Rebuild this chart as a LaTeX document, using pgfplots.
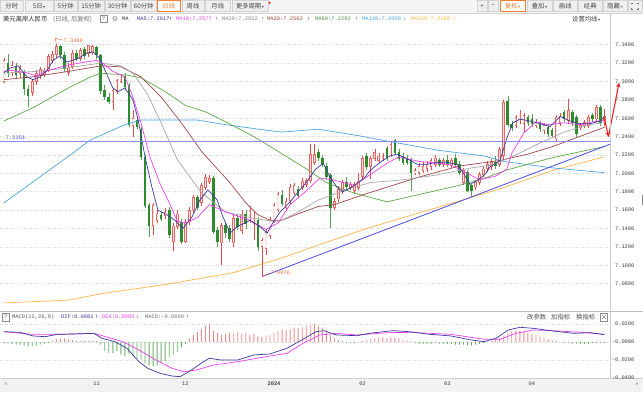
\documentclass[border=0pt]{standalone}
\usepackage{fontspec}
\setmainfont{Liberation Sans}
\setmonofont{Liberation Mono}
\newfontfamily\cjk{Noto Sans CJK SC}
\newfontfamily\dvs{DejaVu Sans}
\newfontfamily\dvm{DejaVu Sans Mono}
\usepackage{pgfplots}
\usepackage{pgfplotstable}
\pgfplotsset{compat=1.18}
\usetikzlibrary{arrows.meta}

\newcommand{\sm}{\fontsize{5.4}{6}\selectfont}
\newcommand{\cj}{\cjk\fontsize{6.3}{7}\selectfont}

\definecolor{upred}{HTML}{E84A4A}
\definecolor{upfill}{HTML}{FCE6E6}
\definecolor{dngreen}{HTML}{2E8B2E}
\definecolor{ma5}{HTML}{3A3A9A}
\definecolor{ma10}{HTML}{F040F0}
\definecolor{ma20}{HTML}{A8A8A8}
\definecolor{ma30}{HTML}{A04848}
\definecolor{ma60}{HTML}{5DA849}
\definecolor{ma120}{HTML}{4DA6E0}
\definecolor{ma250}{HTML}{FFB547}
\definecolor{trend}{HTML}{4A4AE8}
\definecolor{hline}{HTML}{8A8AF5}
\definecolor{annot}{HTML}{F07040}
\definecolor{arrowred}{HTML}{EE2222}
\definecolor{macdred}{HTML}{F08A8A}
\definecolor{macdgreen}{HTML}{6AB06A}
\definecolor{tbbg}{HTML}{F5F5F5}
\definecolor{btnbg}{HTML}{EFEFEF}
\definecolor{tbline}{HTML}{D2D2D2}
\definecolor{selorange}{HTML}{F08030}

\pgfplotstableread{
i o h l c
0 7.300 7.326 7.298 7.323
2 7.310 7.322 7.306 7.318
4 7.309 7.318 7.304 7.314
7 7.288 7.303 7.284 7.300
8 7.300 7.312 7.296 7.309
9 7.306 7.316 7.303 7.313
10 7.308 7.315 7.305 7.311
11 7.312 7.330 7.310 7.327
12 7.323 7.333 7.320 7.330
13 7.329 7.3406 7.326 7.338
16 7.310 7.320 7.306 7.316
17 7.316 7.334 7.314 7.331
19 7.325 7.336 7.322 7.334
21 7.330 7.340 7.327 7.339
22 7.332 7.340 7.329 7.338
27 7.278 7.293 7.269 7.290
28 7.289 7.303 7.286 7.301
29 7.300 7.308 7.298 7.304
32 7.252 7.269 7.240 7.260
37 7.143 7.168 7.133 7.165
38 7.149 7.160 7.146 7.156
40 7.154 7.162 7.150 7.158
42 7.126 7.146 7.115 7.143
43 7.142 7.160 7.139 7.156
45 7.126 7.150 7.124 7.147
46 7.147 7.163 7.144 7.160
47 7.160 7.177 7.157 7.174
49 7.168 7.190 7.165 7.187
50 7.185 7.199 7.182 7.196
51 7.191 7.198 7.188 7.195
54 7.124 7.146 7.100 7.143
57 7.124 7.155 7.120 7.151
59 7.138 7.160 7.134 7.156
61 7.149 7.164 7.146 7.160
62 7.145 7.159 7.128 7.156
64 7.120 7.130 7.0876 7.127
65 7.118 7.139 7.111 7.136
66 7.132 7.152 7.129 7.149
67 7.149 7.168 7.146 7.165
68 7.161 7.180 7.158 7.177
70 7.163 7.173 7.160 7.170
71 7.170 7.188 7.167 7.185
72 7.179 7.190 7.176 7.187
74 7.185 7.195 7.182 7.192
75 7.188 7.195 7.185 7.192
76 7.192 7.232 7.189 7.221
77 7.212 7.232 7.209 7.221
82 7.163 7.173 7.160 7.170
83 7.172 7.186 7.169 7.183
84 7.181 7.193 7.178 7.190
86 7.185 7.191 7.182 7.188
87 7.181 7.191 7.178 7.188
88 7.185 7.200 7.182 7.192
89 7.196 7.219 7.193 7.216
91 7.207 7.219 7.194 7.216
92 7.216 7.226 7.213 7.223
93 7.214 7.222 7.211 7.219
94 7.216 7.222 7.213 7.219
96 7.221 7.234 7.218 7.232
102 7.201 7.206 7.198 7.203
103 7.201 7.211 7.198 7.208
104 7.203 7.212 7.200 7.208
105 7.205 7.213 7.202 7.210
106 7.207 7.217 7.204 7.214
107 7.210 7.220 7.207 7.217
109 7.210 7.217 7.207 7.214
111 7.209 7.217 7.206 7.214
114 7.190 7.206 7.187 7.203
117 7.185 7.193 7.182 7.190
118 7.190 7.202 7.187 7.199
119 7.199 7.208 7.196 7.205
120 7.205 7.213 7.202 7.210
121 7.207 7.216 7.204 7.212
123 7.210 7.229 7.207 7.226
124 7.219 7.280 7.215 7.277
127 7.252 7.264 7.249 7.261
128 7.257 7.269 7.254 7.266
129 7.254 7.266 7.245 7.263
132 7.2519 7.259 7.249 7.2555
134 7.2464 7.255 7.243 7.2519
137 7.2374 7.264 7.235 7.2609
138 7.2555 7.266 7.252 7.2628
140 7.2573 7.281 7.254 7.2682
143 7.2501 7.255 7.247 7.2519
144 7.2519 7.258 7.249 7.2555
145 7.2519 7.264 7.249 7.2609
147 7.2591 7.274 7.256 7.2718
149 7.2573 7.270 7.252 7.2617
}\upT

\pgfplotstableread{
i o h l c
1 7.320 7.330 7.305 7.310
3 7.316 7.320 7.303 7.307
5 7.310 7.313 7.285 7.292
6 7.292 7.296 7.272 7.285
14 7.338 7.340 7.325 7.329
15 7.329 7.332 7.310 7.314
18 7.331 7.334 7.322 7.325
20 7.335 7.338 7.324 7.328
23 7.337 7.339 7.325 7.329
24 7.328 7.330 7.286 7.290
25 7.291 7.296 7.280 7.284
26 7.283 7.288 7.275 7.278
30 7.306 7.309 7.291 7.294
31 7.296 7.298 7.250 7.253
33 7.258 7.262 7.248 7.251
34 7.248 7.250 7.215 7.218
35 7.218 7.220 7.162 7.165
36 7.165 7.168 7.131 7.143
39 7.155 7.158 7.148 7.151
41 7.160 7.163 7.130 7.133
44 7.147 7.150 7.123 7.126
48 7.174 7.177 7.160 7.163
52 7.195 7.197 7.134 7.137
53 7.138 7.142 7.120 7.126
55 7.143 7.147 7.130 7.135
56 7.140 7.144 7.125 7.129
58 7.151 7.156 7.138 7.142
60 7.156 7.160 7.140 7.145
63 7.149 7.152 7.116 7.120
69 7.176 7.182 7.164 7.167
73 7.183 7.186 7.173 7.176
78 7.223 7.226 7.214 7.217
79 7.217 7.220 7.207 7.210
80 7.208 7.211 7.193 7.196
81 7.198 7.200 7.141 7.163
85 7.190 7.196 7.182 7.185
90 7.219 7.222 7.204 7.207
95 7.227 7.230 7.214 7.217
97 7.236 7.237 7.220 7.223
98 7.223 7.226 7.213 7.216
99 7.219 7.222 7.209 7.212
100 7.217 7.220 7.209 7.212
101 7.214 7.217 7.181 7.201
108 7.214 7.217 7.207 7.210
110 7.214 7.220 7.207 7.210
112 7.216 7.221 7.206 7.209
113 7.210 7.213 7.198 7.201
115 7.201 7.204 7.180 7.181
116 7.187 7.190 7.174 7.181
122 7.212 7.219 7.205 7.208
125 7.278 7.284 7.250 7.253
126 7.254 7.257 7.246 7.250
130 7.261 7.264 7.252 7.2555
131 7.259 7.2646 7.250 7.2537
133 7.2537 7.257 7.245 7.2482
135 7.2501 7.253 7.240 7.2428
136 7.2464 7.249 7.238 7.241
139 7.2664 7.269 7.256 7.2591
141 7.2664 7.269 7.252 7.2555
142 7.2609 7.264 7.240 7.2428
146 7.2628 7.266 7.256 7.2591
148 7.2718 7.274 7.252 7.2555
}\dnT

\pgfplotstableread{
i v
0 -0.002
1 -0.002
2 -0.002
3 -0.003
4 -0.003
5 -0.004
6 -0.005
7 -0.005
8 -0.004
9 -0.003
10 -0.002
11 -0.001
12 0.001
13 0.003
14 0.004
15 0.004
16 0.003
17 0.002
18 0.001
19 0.001
20 0.001
21 0.001
22 0.001
23 0.001
24 -0.003
25 -0.010
26 -0.012
27 -0.012
28 -0.010
29 -0.014
30 -0.016
31 -0.013
32 -0.016
33 -0.018
34 -0.020
35 -0.024
36 -0.026
37 -0.027
38 -0.026
39 -0.023
40 -0.021
41 -0.017
42 -0.014
43 -0.011
44 -0.006
45 -0.002
46 0.004
47 0.008
48 0.011
49 0.014
50 0.018
51 0.020
52 0.012
53 0.010
54 0.008
55 0.009
56 0.010
57 0.009
58 0.011
59 0.009
60 0.010
61 0.008
62 0.009
63 0.007
64 0.006
65 0.007
66 0.008
67 0.010
68 0.012
69 0.014
70 0.013
71 0.014
72 0.016
73 0.015
74 0.017
75 0.018
76 0.019
77 0.020
78 0.018
79 0.016
80 0.013
81 0.008
82 0.004
83 0.002
84 0.001
85 -0.001
86 -0.001
87 -0.001
88 0.000
89 0.001
90 0.002
91 0.003
92 0.004
93 0.005
94 0.005
95 0.004
96 0.005
97 0.005
98 0.004
99 0.003
100 0.002
101 0.001
102 -0.001
103 -0.002
104 -0.002
105 -0.002
106 -0.002
107 -0.001
108 -0.002
109 -0.002
110 -0.002
111 -0.002
112 -0.003
113 -0.003
114 -0.003
115 -0.004
116 -0.004
117 -0.003
118 -0.002
119 -0.001
120 0.000
121 0.001
122 0.002
123 0.004
124 0.007
125 0.010
126 0.012
127 0.013
128 0.012
129 0.011
130 0.010
131 0.009
132 0.008
133 0.007
134 0.005
135 0.003
136 0.002
137 0.001
138 0.000
139 -0.001
140 -0.001
141 -0.002
142 -0.002
143 -0.002
144 -0.002
145 -0.002
146 -0.001
147 -0.001
148 -0.001
149 -0.0009
}\histT

\newcommand{\btn}[3]{\draw[tbline,fill=btnbg,line width=0.5pt] (#1,380.5) rectangle (#2,391.3);
  \node[inner sep=0,text=black!72,font=\cj] at ({(#1+#2)/2},385.8) {#3};}
\newcommand{\btnsel}[3]{\draw[selorange,fill=white,line width=0.6pt] (#1,380.5) rectangle (#2,391.3);
  \node[inner sep=0,text=selorange,font=\cj] at ({(#1+#2)/2},385.8) {#3};}
\newcommand{\tri}{{\dvs\fontsize{4}{4}\selectfont\,▾}}

\begin{document}
\begin{tikzpicture}[x=1pt,y=1pt]
\fill[white] (0,0) rectangle (643,392);
\path[use as bounding box] (0,0) rectangle (643,392);
% bottom strip (behind the date labels)
\fill[black!5] (0,0) rectangle (643,14);
\draw[black!20,line width=0.5pt] (0,14) -- (643,14);

% ---------- toolbar ----------
\fill[tbbg] (0,379) rectangle (643,392);
\draw[tbline] (0,379.2) -- (643,379.2);
\btn{0.5}{23}{分时}
\btn{25}{53}{5日\tri}
\btn{54.5}{77}{5分钟}
\btn{78.5}{104}{15分钟}
\btn{105.5}{130}{30分钟}
\btn{131.5}{156}{60分钟}
\btnsel{157.5}{180}{日线}
\btn{182}{204}{周线}
\btn{205.5}{230}{月线}
\btn{232}{268}{更多周期\tri}
\fill[red] (269.5,389.3) circle (1.1);
\btn{477}{487}{+}
\btn{488}{498}{−}
\btnsel{500}{525}{复权\tri}
\btn{527}{552}{叠加\tri}
\btn{553.5}{577}{画线}
\btn{578.5}{602}{经典}
\btn{603.5}{627}{隐藏{\dvs\fontsize{5}{5}\selectfont»}}
\btn{628.5}{642.5}{}
\draw[black!55,line width=0.5pt] (631.5,387.5)--(631.5,389)--(633,389) (637,389)--(638.5,389)--(638.5,387.5)
  (638.5,384)--(638.5,382.5)--(637,382.5) (633,382.5)--(631.5,382.5)--(631.5,384);

% ---------- header line ----------
\node[anchor=west,inner sep=0,font=\cj,text=black!85] at (3,373) {美元离岸人民币};
\node[anchor=west,inner sep=0,font=\cj,text=black!55] at (53,373) {(日线, 后复权)};
\draw[black!45,line width=0.4pt] (100,369.3) rectangle (107.5,376.7);
\node[inner sep=0,font=\ttfamily\sm,text=black!60] at (103.75,373) {?};
\node[inner sep=0,font=\dvs\fontsize{7}{7}\selectfont,text=black!50] at (115,373) {⚙};
\node[anchor=west,inner sep=0,font=\ttfamily\sm,text=black!80] at (122,373) {MA};
\node[anchor=west,inner sep=0,font=\ttfamily\sm,text=ma5] at (137,373) {MA5:7.2617};
\node[anchor=west,inner sep=0,font=\dvm\sm,text=ma5] at (169,373) {↑};
\node[anchor=west,inner sep=0,font=\ttfamily\sm,text=ma10] at (176,373) {MA10:7.2577};
\node[anchor=west,inner sep=0,font=\dvm\sm,text=ma10] at (215,373) {↑};
\node[anchor=west,inner sep=0,font=\ttfamily\sm,text=black!50] at (222,373) {MA20:7.2552};
\node[anchor=west,inner sep=0,font=\dvm\sm,text=black!50] at (261,373) {↑};
\node[anchor=west,inner sep=0,font=\ttfamily\sm,text=ma30] at (267,373) {MA30:7.2502};
\node[anchor=west,inner sep=0,font=\dvm\sm,text=ma30] at (307,373) {↑};
\node[anchor=west,inner sep=0,font=\ttfamily\sm,text=ma60!85!black] at (315,373) {MA60:7.2292};
\node[anchor=west,inner sep=0,font=\dvm\sm,text=ma60!85!black] at (355,373) {↑};
\node[anchor=west,inner sep=0,font=\ttfamily\sm,text=ma120] at (362,373) {MA120:7.2008};
\node[anchor=west,inner sep=0,font=\dvm\sm,text=ma120] at (403,373) {↓};
\node[anchor=west,inner sep=0,font=\ttfamily\sm,text=ma250] at (411,373) {MA250:7.2180};
\node[anchor=west,inner sep=0,font=\dvm\sm,text=ma250] at (453,373) {↑};
\node[anchor=west,inner sep=0,font=\cj,text=black!75] at (572,373) {设置均线\tri};

% ---------- main price panel ----------
\begin{axis}[
  at={(0pt,82pt)}, anchor=south west, scale only axis,
  width=610pt, height=283pt,
  xmin=-0.99, xmax=150.37, ymin=7.0513, ymax=7.3593,
  axis line style={draw=none}, major tick length=0pt,
  xtick=\empty, scaled y ticks=false,
  ytick={7.08,7.10,7.12,7.14,7.16,7.18,7.20,7.22,7.24,7.26,7.28,7.30,7.32,7.34},
  yticklabel pos=right,
  /pgf/number format/assume math mode=true,
  yticklabel={\pgfmathprintnumber[fixed,fixed zerofill,precision=4]{\tick}},
  yticklabel style={font=\ttfamily\sm, text=black!75, anchor=east, xshift=28pt},
  ymajorgrids, grid style={dotted, black!16, line width=0.5pt},
]
% wicks
\addplot[only marks, mark=*, mark size=0pt, mark options={draw=none,fill=none},
  error bars/.cd, y dir=plus, y explicit, error mark=none,
  error bar style={line width=0.5pt, color=upred}]
  table[x=i, y=l, y error expr=\thisrow{h}-\thisrow{l}] {\upT};
\addplot[only marks, mark=*, mark size=0pt, mark options={draw=none,fill=none},
  error bars/.cd, y dir=plus, y explicit, error mark=none,
  error bar style={line width=0.5pt, color=dngreen!80}]
  table[x=i, y=l, y error expr=\thisrow{h}-\thisrow{l}] {\dnT};
% bodies
\addplot[only marks, mark=*, mark size=0pt, mark options={draw=none,fill=none},
  error bars/.cd, y dir=both, y explicit, error mark=none,
  error bar style={line width=2.6pt, color=upred!85}]
  table[x=i, y expr=(\thisrow{o}+\thisrow{c})/2, y error expr=(\thisrow{c}-\thisrow{o})/2+0.0003] {\upT};
\addplot[only marks, mark=*, mark size=0pt, mark options={draw=none,fill=none},
  error bars/.cd, y dir=both, y explicit, error mark=none,
  error bar style={line width=1.2pt, color=upfill}]
  table[x=i, y expr=(\thisrow{o}+\thisrow{c})/2, y error expr={max((\thisrow{c}-\thisrow{o})/2-0.0006,0)}] {\upT};
\addplot[only marks, mark=*, mark size=0pt, mark options={draw=none,fill=none},
  error bars/.cd, y dir=both, y explicit, error mark=none,
  error bar style={line width=2.6pt, color=dngreen}]
  table[x=i, y expr=(\thisrow{o}+\thisrow{c})/2, y error expr=(\thisrow{o}-\thisrow{c})/2+0.0003] {\dnT};

% moving averages
\addplot[ma250, line width=0.7pt] coordinates {(0,7.059)(16,7.062)(24,7.069)(40,7.079)(57,7.092)(69,7.108)(78,7.122)(90,7.140)(103,7.157)(113,7.170)(123,7.183)(136,7.203)(149,7.218)};
\addplot[ma120, line width=0.7pt] coordinates {(0,7.168)(11.4,7.204)(18,7.225)(21.3,7.236)(30,7.253)(34,7.258)(48,7.258)(55,7.253)(65,7.247)(69,7.245)(78,7.248)(88,7.241)(96.5,7.234)(108,7.225)(119,7.219)(124,7.213)(136,7.206)(149,7.2008)};
\addplot[ma60, line width=0.7pt] coordinates {(0,7.257)(7,7.271)(16,7.293)(21.5,7.305)(24,7.309)(30.5,7.307)(34,7.304)(40,7.289)(45,7.274)(50,7.267)(55,7.256)(62,7.240)(68,7.224)(75,7.205)(80,7.190)(86.6,7.179)(95,7.169)(103,7.177)(113,7.187)(120,7.196)(125,7.204)(136,7.217)(149,7.2292)};
\addplot[ma30, line width=0.7pt] coordinates {(0,7.302)(7,7.305)(16,7.311)(24,7.317)(29,7.316)(34,7.305)(39,7.283)(44,7.255)(49,7.224)(56,7.190)(60,7.168)(63,7.155)(66,7.149)(69,7.149)(73,7.156)(78,7.164)(82,7.166)(90,7.178)(103,7.196)(113,7.208)(123,7.214)(130,7.221)(136,7.229)(149,7.2502)};
\addplot[ma20, line width=0.7pt] coordinates {(0,7.309)(8,7.311)(16,7.315)(24,7.320)(29,7.317)(32,7.309)(35.5,7.287)(39,7.255)(43,7.215)(49,7.179)(55,7.158)(62,7.151)(68,7.147)(73,7.158)(78,7.171)(86,7.184)(91,7.190)(99,7.193)(107,7.198)(116,7.206)(121,7.209)(126,7.218)(133,7.233)(139,7.245)(145,7.253)(149,7.2552)};
\addplot[ma10, line width=0.7pt] coordinates {(0,7.311)(2,7.312)(6,7.309)(8,7.306)(11,7.312)(16,7.318)(20,7.321)(23,7.323)(24.5,7.320)(27,7.311)(30,7.305)(32,7.283)(34,7.255)(36.2,7.218)(38.7,7.189)(41,7.168)(43,7.148)(45,7.146)(48,7.152)(51,7.166)(55,7.158)(61,7.149)(65,7.139)(68,7.146)(71,7.166)(75,7.181)(78.4,7.195)(81.6,7.193)(85,7.189)(87,7.187)(90,7.196)(95,7.211)(98,7.218)(103,7.213)(108,7.211)(111,7.209)(115,7.200)(118,7.193)(122,7.197)(124.8,7.205)(126,7.222)(129,7.244)(132,7.256)(135,7.253)(139,7.255)(143,7.253)(146,7.256)(149,7.2577)};
\addplot[ma5, line width=0.7pt] coordinates {(0,7.3095)(1.5,7.3146)(3.5,7.317)(5.7,7.305)(7.2,7.302)(8.9,7.305)(10.7,7.312)(12.2,7.323)(13.9,7.328)(15.6,7.321)(18.4,7.325)(20.6,7.331)(22.1,7.332)(23.8,7.325)(25.6,7.307)(27,7.293)(28.3,7.289)(30,7.293)(32,7.280)(33.3,7.258)(35,7.218)(36.7,7.185)(38.2,7.160)(40.4,7.155)(42.4,7.149)(44.4,7.140)(46.7,7.153)(48.6,7.171)(50.6,7.182)(52.9,7.171)(54.3,7.153)(56.1,7.135)(57.8,7.142)(59.8,7.146)(61,7.149)(63.5,7.142)(65.3,7.135)(66.7,7.146)(68.5,7.158)(71,7.169)(73,7.180)(75.2,7.191)(77.2,7.204)(79.2,7.211)(80.9,7.196)(82.6,7.185)(84.1,7.180)(85.9,7.184)(87.6,7.189)(89.6,7.196)(90.8,7.203)(93.3,7.212)(95.8,7.219)(97.5,7.221)(100,7.216)(102.5,7.210)(105,7.210)(107.4,7.212)(109.9,7.212)(112.4,7.210)(113.9,7.201)(115.6,7.188)(117.4,7.192)(119.4,7.199)(120.6,7.207)(123.1,7.214)(124.8,7.239)(126.3,7.255)(128,7.259)(130.5,7.257)(133,7.254)(135.5,7.251)(138,7.262)(140.4,7.257)(142.9,7.254)(145.4,7.254)(147.9,7.257)(149,7.2617)};

% drawn lines
\addplot[hline, line width=0.9pt] coordinates {(-0.99,7.2351)(150.37,7.2351)};
\addplot[trend, line width=0.8pt] coordinates {(64,7.0876)(150.37,7.2317)};

% annotations
\draw[annot, line width=0.5pt] (axis cs:13,7.3406) -- (axis cs:12.7,7.3470) -- (axis cs:14.5,7.3452);
\node[anchor=west, inner sep=0.5pt, font=\ttfamily\sm, text=annot] at (axis cs:14.6,7.3447) {7.3406};
\draw[annot, line width=0.5pt] (axis cs:64,7.0876) -- (axis cs:65.8,7.0912);
\node[anchor=west, inner sep=0.5pt, font=\ttfamily\sm, text=annot] at (axis cs:66,7.0918) {7.0876};
\node[anchor=south west, inner sep=0.5pt, font=\ttfamily\sm, text=trend] at (axis cs:0.3,7.2360) {7.2351};
\coordinate (A1) at (axis cs:148.9,7.2610);
\coordinate (A2) at (axis cs:150.0,7.2400);
\coordinate (A3) at (axis cs:152.6,7.2986);
\end{axis}
\draw[arrowred, line width=1.1pt, -{Stealth[length=4.5pt,width=4.5pt]}] (A1) -- (A2);
\draw[arrowred, line width=1.1pt, -{Stealth[length=4.5pt,width=4.5pt]}] (A2) -- (A3);

% ---------- MACD panel ----------
\begin{axis}[
  at={(0pt,14pt)}, anchor=south west, scale only axis,
  width=610pt, height=66pt,
  xmin=-0.99, xmax=150.37, ymin=-0.04, ymax=0.0333,
  axis line style={draw=none}, major tick length=0pt,
  scaled y ticks=false, scaled x ticks=false,
  ytick={-0.04,-0.02,0,0.02},
  yticklabels={-0.0400,-0.0200,-0.0000,0.0200},
  yticklabel pos=right,
  yticklabel style={font=\ttfamily\sm, text=black!75, anchor=east, xshift=28pt},
  ymajorgrids, grid style={dotted, black!16, line width=0.5pt},
  xtick={23,45,67,89,110,131},
  xticklabels={11,12,{\bfseries 2024},02,03,04},
  xticklabel style={font=\ttfamily\sm, text=black!75, anchor=north, yshift=-0.5pt},
]
\addplot[ybar, bar width=0.9pt, bar shift=0pt, fill=macdred, draw=none, restrict y to domain=0:1] table[x=i,y=v] {\histT};
\addplot[ybar, bar width=0.9pt, bar shift=0pt, fill=macdgreen, draw=none, restrict y to domain=-1:0] table[x=i,y=v] {\histT};
\addplot[ma10, line width=0.7pt] coordinates {(0,0.0114)(7.2,0.0085)(14.1,0.0085)(22.3,0.0096)(26.6,0.0041)(29.5,0.0004)(33.5,-0.0089)(37.7,-0.0200)(41.7,-0.0293)(44.7,-0.0330)(47.9,-0.0310)(51.9,-0.0256)(58,-0.0219)(65,-0.0163)(70.2,-0.0126)(74.2,-0.0015)(78.4,0.0078)(82.4,0.0096)(87.6,0.0078)(95.5,0.0104)(100.7,0.0107)(110.9,0.0085)(119.1,0.0030)(123.1,0.0030)(127,0.0096)(131.3,0.0133)(136.2,0.0126)(143.4,0.0107)(149,0.0085)};
\addplot[ma5, line width=0.7pt] coordinates {(0,0.0114)(4,0.0107)(7.2,0.0067)(10.2,0.0059)(13.2,0.0085)(17.4,0.0089)(22.3,0.0096)(24.3,0.0041)(27.5,0.0004)(30.5,-0.0070)(33.5,-0.0219)(35.7,-0.0293)(38.7,-0.0348)(41.7,-0.0378)(43.7,-0.0385)(45.9,-0.0330)(48.9,-0.0237)(50.9,-0.0181)(53.8,-0.0200)(58,-0.0200)(62,-0.0144)(66,-0.0133)(70.2,-0.0070)(74.2,0.0030)(77.4,0.0114)(79.4,0.0126)(82.4,0.0078)(87.6,0.0070)(90.6,0.0096)(96.5,0.0126)(100.7,0.0114)(105.7,0.0085)(110.9,0.0067)(115.9,0.0022)(119.1,0.0004)(122.1,0.0041)(125.1,0.0133)(128,0.0163)(131.3,0.0152)(136.2,0.0122)(141.4,0.0096)(145.4,0.0104)(149,0.0081)};
\end{axis}

% MACD header
\draw[black!45,line width=0.4pt] (2.5,71.3) rectangle (9.5,78.7);
\node[inner sep=0,font=\ttfamily\sm,text=black!60] at (6,75) {?};
\node[anchor=west,inner sep=0,font=\ttfamily\sm,text=black!65] at (12,75) {MACD(12,26,9)};
\node[anchor=west,inner sep=0,font=\ttfamily\sm,text=ma5] at (61,75) {DIF:0.0081};
\node[anchor=west,inner sep=0,font=\dvm\sm,text=ma5] at (95,75) {↑};
\node[anchor=west,inner sep=0,font=\ttfamily\sm,text=ma10] at (102,75) {DEA:0.0085};
\node[anchor=west,inner sep=0,font=\dvm\sm,text=ma10] at (136,75) {↓};
\node[anchor=west,inner sep=0,font=\ttfamily\sm,text=black!55] at (145,75) {MACD:-0.0009};
\node[anchor=west,inner sep=0,font=\dvm\sm,text=black!55] at (186,75) {↑};
\node[anchor=west,inner sep=0,font=\cj,text=black!70] at (527,75) {改参数};
\node[anchor=west,inner sep=0,font=\cj,text=black!70] at (551,75) {加指标};
\node[anchor=west,inner sep=0,font=\cj,text=black!70] at (576,75) {换指标};
\draw[black!45,line width=0.4pt] (600.5,71.3) rectangle (607.5,78.7);
\draw[black!55,line width=0.4pt] (602,72.8)--(606,77.2) (602,77.2)--(606,72.8);

% separators and frame
\draw[black!25,line width=0.5pt] (0,81) -- (643,81);
\draw[black!20,line width=0.5pt] (610.5,14) -- (610.5,379);
\node[inner sep=0,font=\sm,text=black!55] at (6,7.5) {«};
\node[inner sep=0,font=\sm,text=black!55] at (637,7.5) {»};
\fill[black!45] (641.6,187) rectangle (643,197);
\end{tikzpicture}
\end{document}
